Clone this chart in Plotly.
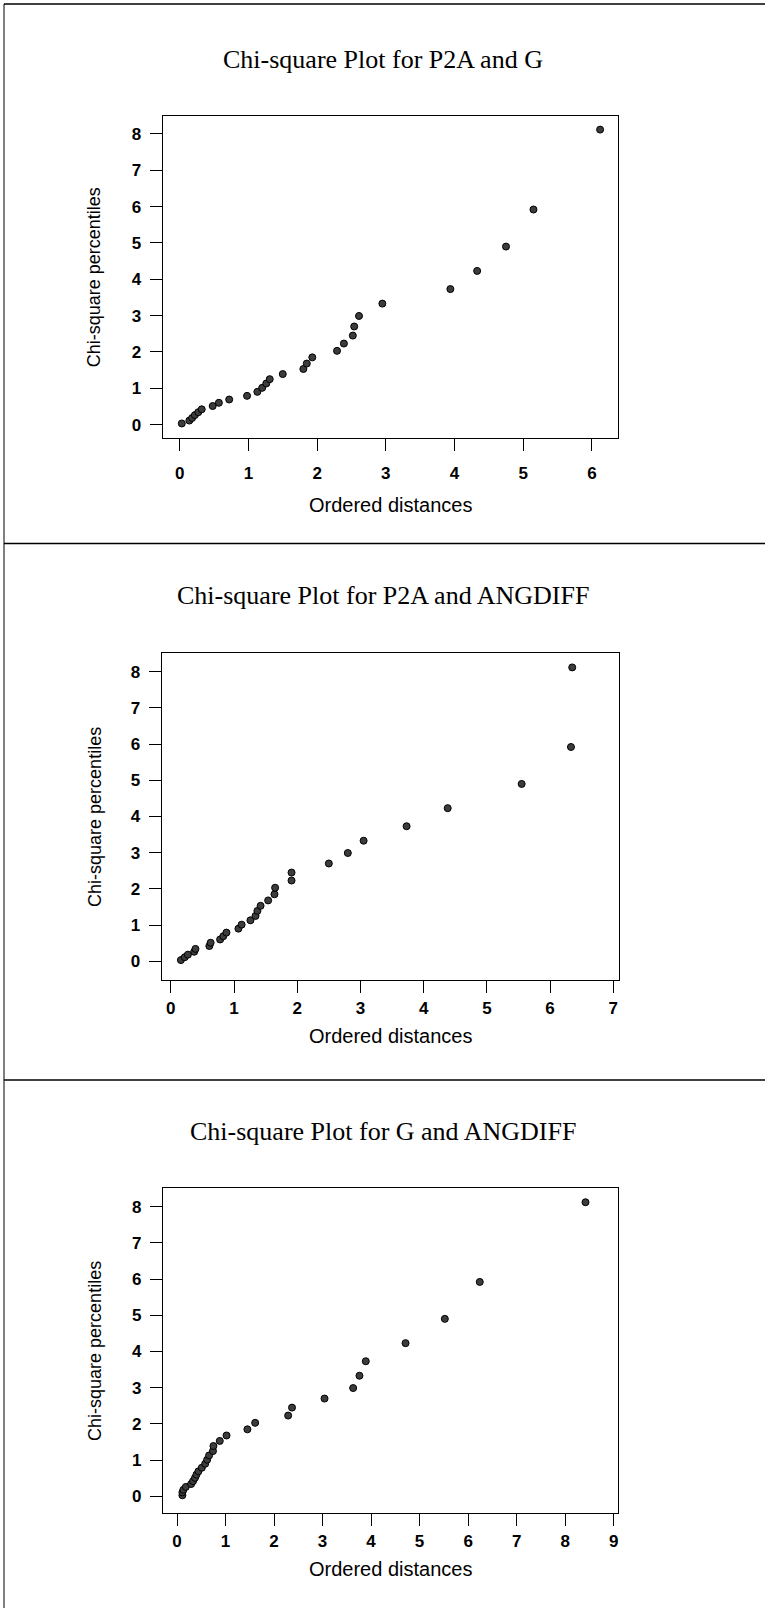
import plotly.graph_objects as go

# ---- data ----
chi_square_percentiles = [0.03, 0.11, 0.18, 0.26, 0.34, 0.42, 0.51, 0.60, 0.69, 0.79,
                          0.90, 1.01, 1.13, 1.25, 1.39, 1.53, 1.68, 1.85, 2.03, 2.23,
                          2.45, 2.70, 2.99, 3.33, 3.73, 4.23, 4.90, 5.92, 8.12]

dist_p2a_g = [0.03, 0.14, 0.18, 0.22, 0.27, 0.32, 0.48, 0.57, 0.72, 0.98,
              1.13, 1.20, 1.26, 1.31, 1.50, 1.80, 1.85, 1.93, 2.29, 2.39,
              2.52, 2.54, 2.61, 2.95, 3.94, 4.33, 4.75, 5.15, 6.12]

dist_p2a_angdiff = [0.16, 0.22, 0.27, 0.37, 0.39, 0.61, 0.63, 0.78, 0.83, 0.88,
                    1.07, 1.12, 1.26, 1.34, 1.37, 1.42, 1.54, 1.64, 1.65, 1.91,
                    1.91, 2.50, 2.80, 3.05, 3.73, 4.38, 5.55, 6.33, 6.35]

dist_g_angdiff = [0.11, 0.11, 0.13, 0.18, 0.29, 0.33, 0.37, 0.40, 0.44, 0.51,
                  0.58, 0.62, 0.66, 0.74, 0.75, 0.88, 1.02, 1.45, 1.61, 2.29,
                  2.37, 3.04, 3.63, 3.76, 3.89, 4.71, 5.52, 6.24, 8.42]

panel_titles = ["Chi-square Plot for P2A and G",
                "Chi-square Plot for P2A and ANGDIFF",
                "Chi-square Plot for G and ANGDIFF"]
x_tick_sets = [list(range(0, 7)), list(range(0, 8)), list(range(0, 10))]
y_ticks = list(range(0, 9))
x_label = "Ordered distances"
y_label = "Chi-square percentiles"

# ---- layout geometry (pixels) ----
W, H = 765, 1608
panels = [
    dict(x=dist_p2a_g, box=(162.7, 618.3, 116, 438), xr=[-0.248, 6.385], yr=[-0.37, 8.495],
         title_y=59.5, xlab_y=505, xstand=7),
    dict(x=dist_p2a_angdiff, box=(161.7, 619, 653.3, 980), xr=[-0.144, 7.09], yr=[-0.52, 8.51],
         title_y=595, xlab_y=1036, xstand=0),
    dict(x=dist_g_angdiff, box=(163, 618, 1188.3, 1513), xr=[-0.29, 9.09], yr=[-0.46, 8.505],
         title_y=1131, xlab_y=1569, xstand=0),
]

def px_x(p):
    return p / W

def px_y(p):
    return 1 - p / H

fig = go.Figure()
annotations = []
layout_axes = {}
tick_font = dict(family="Liberation Sans, Arial, sans-serif", size=17, color="#000000",
                 weight="bold")
for i, pnl in enumerate(panels):
    n = "" if i == 0 else str(i + 1)
    l, r, t, b = pnl["box"]
    fig.add_trace(go.Scatter(
        x=pnl["x"], y=chi_square_percentiles, mode="markers",
        xaxis="x" + n, yaxis="y" + n, showlegend=False,
        marker=dict(size=7, color="#3c3c3c", line=dict(color="#000000", width=1)),
    ))
    axis_common = dict(
        showgrid=False, zeroline=False, showline=True, linecolor="#000000", linewidth=1.3,
        mirror=True, ticks="outside", ticklen=12, tickwidth=1.2, tickcolor="#000000",
        tickfont=tick_font, fixedrange=True,
    )
    layout_axes["xaxis" + n] = dict(axis_common, domain=[px_x(l), px_x(r)], range=pnl["xr"],
                                    anchor="y" + n, tickmode="array", tickvals=x_tick_sets[i],
                                    ticklabelstandoff=pnl["xstand"])
    layout_axes["yaxis" + n] = dict(axis_common, domain=[px_y(b), px_y(t)], range=pnl["yr"],
                                    anchor="x" + n, tickmode="array", tickvals=y_ticks,
                                    ticklabelstandoff=5)
    annotations.append(dict(text=panel_titles[i], x=px_x(382.5), y=px_y(pnl["title_y"]),
                            xref="paper", yref="paper", showarrow=False,
                            xanchor="center", yanchor="middle",
                            font=dict(family="Liberation Serif, Times New Roman, serif",
                                      size=26, color="#000000")))
    annotations.append(dict(text=x_label, x=px_x((l + r) / 2), y=px_y(pnl["xlab_y"]),
                            xref="paper", yref="paper", showarrow=False,
                            xanchor="center", yanchor="middle",
                            font=dict(family="Liberation Sans, Arial, sans-serif",
                                      size=20, color="#000000")))
    annotations.append(dict(text=y_label, x=px_x(94.3), y=px_y((t + b) / 2),
                            xref="paper", yref="paper", showarrow=False, textangle=-90,
                            xanchor="center", yanchor="middle",
                            font=dict(family="Liberation Sans, Arial, sans-serif",
                                      size=18, color="#000000")))

# frame and separators
shapes = [
    dict(type="line", xref="paper", yref="paper", x0=px_x(4), x1=px_x(4), y0=px_y(4), y1=px_y(1608),
         line=dict(color="#000000", width=1)),
    dict(type="line", xref="paper", yref="paper", x0=px_x(4), x1=1, y0=px_y(4), y1=px_y(4),
         line=dict(color="#000000", width=1.5)),
    dict(type="line", xref="paper", yref="paper", x0=px_x(4), x1=1, y0=px_y(543.5), y1=px_y(543.5),
         line=dict(color="#000000", width=1.5)),
    dict(type="line", xref="paper", yref="paper", x0=px_x(4), x1=1, y0=px_y(1080), y1=px_y(1080),
         line=dict(color="#000000", width=1.5)),
]

fig.update_layout(
    width=W, height=H, margin=dict(l=0, r=0, t=0, b=0),
    paper_bgcolor="#ffffff", plot_bgcolor="#ffffff",
    annotations=annotations, shapes=shapes, **layout_axes,
)

fig.write_html("out.html")
